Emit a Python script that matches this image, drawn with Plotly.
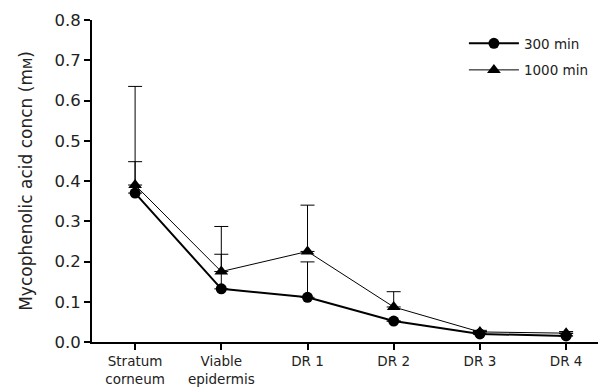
import plotly.graph_objects as go

categories = ["Stratum<br>corneum", "Viable<br>epidermis", "DR 1", "DR 2", "DR 3", "DR 4"]
conc_300 = [0.37, 0.132, 0.111, 0.052, 0.020, 0.015]
err_300 = [0.078, 0.086, 0.088, 0.0, 0.006, 0.006]
conc_1000 = [0.39, 0.175, 0.225, 0.087, 0.025, 0.022]
err_1000 = [0.245, 0.112, 0.115, 0.038, 0.004, 0.004]
yticks = [0.0, 0.1, 0.2, 0.3, 0.4, 0.5, 0.6, 0.7, 0.8]

xpos = list(range(len(categories)))
font = "DejaVu Sans"
txt = "#222"

fig = go.Figure()
fig.add_trace(go.Scatter(
    x=xpos, y=conc_300, mode="lines+markers", name="300 min", legendgroup="a",
    line=dict(color="black", width=2),
    marker=dict(symbol="circle", size=11, color="black"),
    error_y=dict(type="data", array=err_300, arrayminus=[0]*6, symmetric=False,
                 color="black", thickness=1, width=7),
))
fig.add_trace(go.Scatter(
    x=xpos, y=conc_1000, mode="lines+markers", name="1000 min", legendgroup="b",
    line=dict(color="black", width=1),
    marker=dict(symbol="triangle-up", size=12, color="black"),
    error_y=dict(type="data", array=err_1000, arrayminus=[0]*6, symmetric=False,
                 color="black", thickness=1, width=7),
))

fig.update_layout(
    width=599, height=389,
    margin=dict(l=92, r=1, t=20, b=47),
    paper_bgcolor="white", plot_bgcolor="white",
    font=dict(family=font, color=txt),
    showlegend=True,
    legend=dict(x=0.735, y=0.975, xanchor="left", yanchor="top",
                traceorder="grouped", tracegroupgap=6,
                font=dict(size=13.5, family=font, color=txt),
                bgcolor="rgba(0,0,0,0)", itemwidth=50),
)
fig.update_xaxes(
    range=[-0.5, 5.37], tickvals=xpos, ticktext=categories,
    showline=True, linecolor="black", linewidth=2,
    ticks="outside", ticklen=6, tickcolor="black", tickwidth=2,
    tickfont=dict(size=13.5, family=font, color=txt),
    showgrid=False, zeroline=False,
)
fig.update_yaxes(
    range=[0, 0.8], tickvals=yticks, ticktext=[f"{v:.1f}" for v in yticks],
    showline=True, linecolor="black", linewidth=2,
    ticks="outside", ticklen=6, tickcolor="black", tickwidth=2,
    tickfont=dict(size=16.5, family=font, color=txt),
    showgrid=False, zeroline=False,
    title=dict(text="Mycophenolic acid concn (m<span style='font-size:13px'>M</span>)",
               font=dict(size=17, family=font, color=txt), standoff=18),
)

fig.write_html("out.html")
